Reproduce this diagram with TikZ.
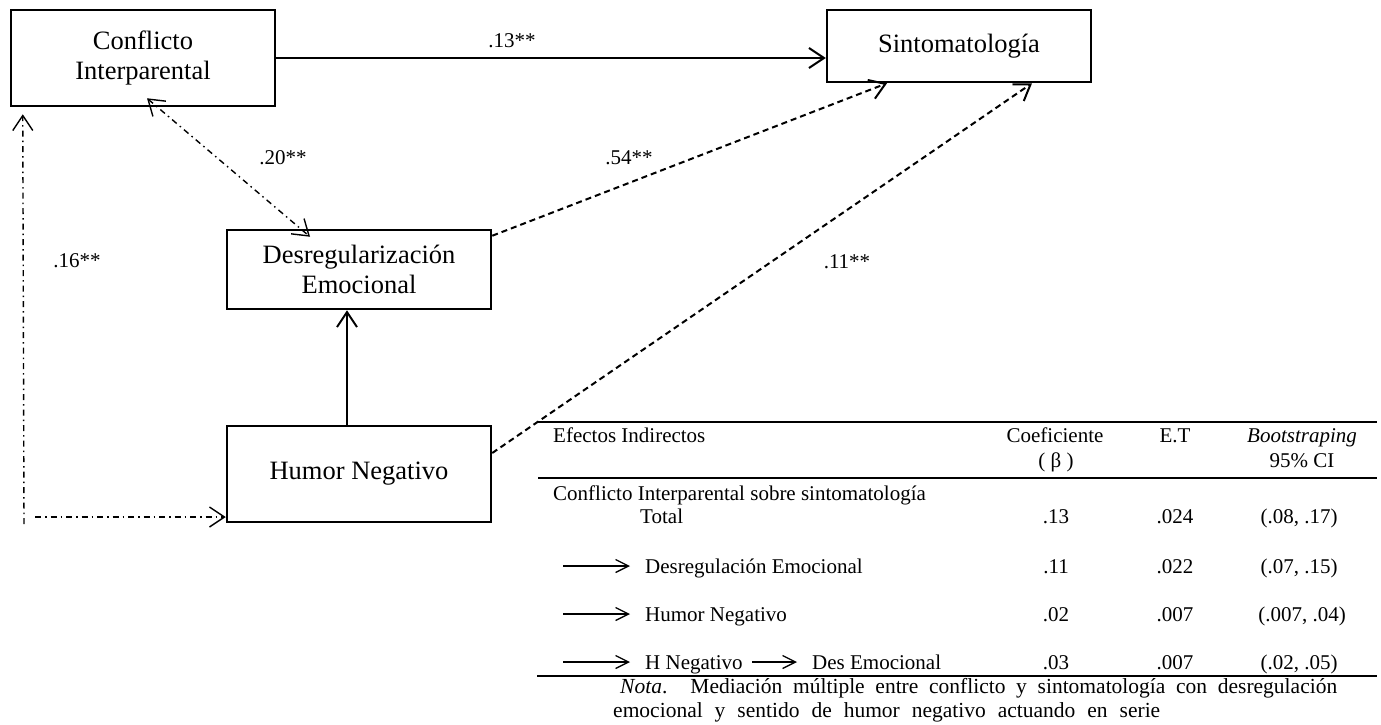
\documentclass[tikz,border=0pt]{standalone}
\usepackage{fontspec}
\setmainfont{Liberation Serif}
\usepackage{tikz}
\usetikzlibrary{arrows.meta,positioning}

\begin{document}
\begin{tikzpicture}[x=1pt, y=-1pt, >={Straight Barb[length=15pt,width=20pt]},
    every node/.style={font=\fontsize{21}{24}\selectfont, inner sep=0pt},
    var/.style={draw, line width=2.5pt, minimum width=264pt, align=center, font=\fontsize{26.5}{30}\selectfont},
    cell/.style={anchor=base},
    rowtext/.style={anchor=base west},
    solidline/.style={line width=2pt},
    dashline/.style={line width=2pt, dash pattern=on 6pt off 4pt},
    dotdash/.style={line width=1.4pt, dash pattern=on 6pt off 4pt on 1.5pt off 4pt},
    rowarrow/.style={line width=1.3pt, -{Straight Barb[length=13pt,width=13pt]}},
    rule/.style={line width=2.5pt}]
    \useasboundingbox (0,0) rectangle (1381,724);

    % Variables
    \node[var, minimum height=96pt] (conflicto) at (143,58) {Conflicto\\Interparental};
    \node[var, minimum height=72pt] (sint) at (959,46) {Sintomatología};
    \node[var, minimum height=79pt] (desreg) at (359,269.5) {Desregularización\\Emocional};
    \node[var, minimum height=96pt] (humor) at (359,474) {Humor Negativo};

    % Direct effect
    \draw[solidline, ->] (conflicto.east) -- (conflicto.east -| sint.west);
    \node (lb13) at (512,41) {.13**};

    % Conflicto <-> Desregularizacion
    \draw[dotdash, <->] ([xshift=4pt,yshift=9pt]conflicto.south) -- ([xshift=-49pt,yshift=-8pt]desreg.north);
    \node (lb20) at (283,158) {.20**};

    % Conflicto <-> Humor (left side)
    \coordinate (corner) at (24,524);
    \coordinate (hstart) at (35,517);
    \draw[dotdash, ->] (corner) -- ([xshift=13pt,yshift=-7pt]conflicto.south west);
    \draw[dotdash, ->] (hstart) -- ([yshift=-43pt]humor.west);
    \node (lb16) at (77,261) {.16**};

    % Humor -> Desregularizacion
    \draw[solidline, ->] ([xshift=-12pt]humor.north) -- ([xshift=-12pt]desreg.south);

    % Paths to Sintomatologia
    \draw[dashline, ->] ([yshift=-7pt]desreg.north east) -- ([xshift=-72pt]sint.south);
    \node (lb54) at (629,158) {.54**};
    \draw[dashline, ->] ([yshift=21pt]humor.east) -- ([xshift=73pt]sint.south);
    \node (lb11) at (847,262) {.11**};

    % Table of indirect effects
    \draw[rule] (538,422) -- (1377,422);
    \draw[rule] (538,478) -- (1377,478);
    \draw[rule] (537,676) -- (1377,676);

    \node[rowtext] (hdEfectos) at (553,442) {Efectos Indirectos};
    \node[cell] (hdCoef) at (1055,442) {Coeficiente};
    \node[cell] (hdBeta) at (1056,467) {( β )};
    \node[cell] (hdET) at (1175,442) {E.T};
    \node[cell] (hdBoot) at (1302,442) {\textit{Bootstraping}};
    \node[cell] (hdCI) at (1302,467) {95\% CI};

    \node[rowtext] (rTitle) at (553,500) {Conflicto Interparental sobre sintomatología};
    \node[rowtext] (rTotal) at (640,523) {Total};
    \node[cell] (vTotalB) at (1056,523) {.13};
    \node[cell] (vTotalE) at (1175,523) {.024};
    \node[cell] (vTotalC) at (1299,523) {(.08, .17)};

    \node[rowtext] (rDes) at (645,573) {Desregulación Emocional};
    \draw[rowarrow] ([xshift=-82pt,yshift=7pt]rDes.base west) -- ([xshift=-15pt,yshift=7pt]rDes.base west);
    \node[cell] (vDesB) at (1056,573) {.11};
    \node[cell] (vDesE) at (1175,573) {.022};
    \node[cell] (vDesC) at (1299,573) {(.07, .15)};

    \node[rowtext] (rHum) at (645,621) {Humor Negativo};
    \draw[rowarrow] ([xshift=-82pt,yshift=7pt]rHum.base west) -- ([xshift=-15pt,yshift=7pt]rHum.base west);
    \node[cell] (vHumB) at (1056,621) {.02};
    \node[cell] (vHumE) at (1175,621) {.007};
    \node[cell] (vHumC) at (1302,621) {(.007, .04)};

    \node[rowtext] (rHNeg) at (645,669) {H Negativo};
    \node[rowtext] (rDesEm) at (812,669) {Des Emocional};
    \draw[rowarrow] ([xshift=-82pt,yshift=7pt]rHNeg.base west) -- ([xshift=-15pt,yshift=7pt]rHNeg.base west);
    \draw[rowarrow] ([xshift=-60pt,yshift=7pt]rDesEm.base west) -- ([xshift=-15pt,yshift=7pt]rDesEm.base west);
    \node[cell] (vSerB) at (1056,669) {.03};
    \node[cell] (vSerE) at (1175,669) {.007};
    \node[cell] (vSerC) at (1299,669) {(.02, .05)};

    % Note
    \node[rowtext, font=\fontsize{21.5}{24}\selectfont] (nota1) at (620,693) {\makebox[717pt][s]{\textit{Nota}. Mediación múltiple entre conflicto y sintomatología con desregulación}};
    \node[rowtext, font=\fontsize{21.5}{24}\selectfont] (nota2) at (613,717) {\makebox[547pt][s]{emocional y sentido de humor negativo actuando en serie}};
\end{tikzpicture}
\end{document}
